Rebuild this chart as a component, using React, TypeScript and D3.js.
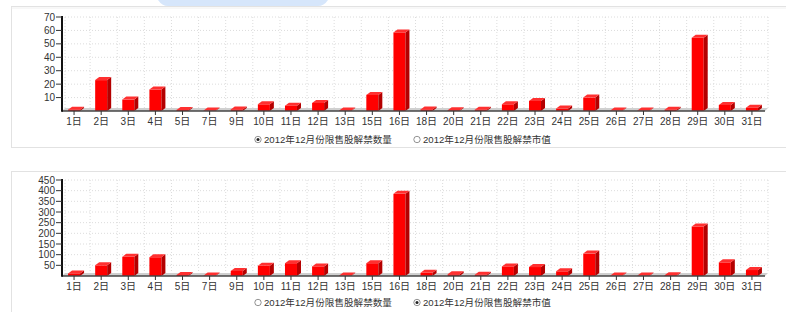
import React from "react";
import * as d3 from "d3";

const days = ["1日","2日","3日","4日","5日","7日","9日","10日","11日","12日","13日","15日","16日","18日","20日","21日","22日","23日","24日","25日","26日","27日","28日","29日","30日","31日"];
const countValues = [1, 23, 8.5, 16, 0.8, 0.4, 1.2, 5, 4, 6, 0.4, 12, 58.5, 1.2, 0.6, 1, 5, 7.5, 1.8, 10, 0.3, 0.3, 1, 54.5, 4.5, 2.5];
const marketValues = [12, 50, 90, 88, 5, 2, 24, 48, 60, 45, 2, 60, 385, 15, 8, 6, 45, 42, 22, 105, 2, 2, 4, 232, 64, 28];
const countTicks = [10, 20, 30, 40, 50, 60, 70];
const marketTicks = [50, 100, 150, 200, 250, 300, 350, 400, 450];
const legendLabels = ["2012年12月份限售股解禁数量", "2012年12月份限售股解禁市值"];

const FONT = "'Liberation Sans', 'Noto Sans CJK SC', sans-serif";

type ChartProps = {
  values: number[];
  ticks: number[];
  yMax: number;
  top: number;
  bottom: number;
  legendY: number;
  selected: number;
};

function Chart({ values, ticks, yMax, top, bottom, legendY, selected }: ChartProps) {
  const x = d3.scaleBand<string>().domain(days).range([63, 768]);
  const y = d3.scaleLinear().domain([0, yMax]).range([bottom, top]);
  const SHIFT = -2.5, DX = 4, DY = 3, HW = 6;
  const cx = (d: string) => (x(d) as number) + x.bandwidth() / 2 + SHIFT;
  const grid = "#dcdcdc";
  return (
    <g>
      {/* floor */}
      <polygon points={`62,${bottom} 765,${bottom} 768,${bottom - DY} 65,${bottom - DY}`} fill="#d0d0d0" />
      {/* horizontal grid */}
      {ticks.map((t) => (
        <line key={"h" + t} x1={65} x2={768} y1={y(t)} y2={y(t)} stroke={grid} strokeDasharray="1,2" />
      ))}
      {/* vertical grid */}
      {days.map((d) => (
        <line key={"v" + d} x1={(x(d) as number) + x.bandwidth()} x2={(x(d) as number) + x.bandwidth()} y1={top} y2={bottom - DY} stroke={grid} strokeDasharray="1,2" />
      ))}
      <line x1={65} x2={65} y1={top} y2={bottom - DY} stroke={grid} strokeDasharray="1,2" />
      {/* bars */}
      {days.map((d, i) => {
        const c = cx(d);
        const yt = y(values[i]);
        const l = c - HW, r = c + HW;
        return (
          <g key={"b" + d}>
            <rect x={l} y={yt} width={r - l} height={bottom - yt} fill="#ff0000" />
            <polygon points={`${r},${yt} ${r + DX},${yt - DY} ${r + DX},${bottom - DY} ${r},${bottom}`} fill="#b40000" />
            <polygon points={`${l},${yt} ${l + DX},${yt - DY} ${r + DX},${yt - DY} ${r},${yt}`} fill="#ff3030" />
          </g>
        );
      })}
      {/* axes */}
      <line x1={62} x2={765} y1={bottom} y2={bottom} stroke="#444" strokeWidth={1.5} />
      <line x1={62} x2={62} y1={top - 1} y2={bottom + 0.75} stroke="#111" strokeWidth={2} />
      {ticks.map((t) => (
        <g key={"yt" + t}>
          <line x1={56} x2={62} y1={y(t)} y2={y(t)} stroke="#333" />
          <text x={55} y={y(t)} dy="0.35em" textAnchor="end" fontSize={10} fill="#333" fontFamily={FONT}>{t}</text>
        </g>
      ))}
      {days.map((d) => (
        <g key={"xt" + d}>
          <line x1={cx(d)} x2={cx(d)} y1={bottom} y2={bottom + 4} stroke="#333" />
          <text x={cx(d)} y={bottom + 14} textAnchor="middle" fontSize={10} fill="#333" fontFamily={FONT}>{d}</text>
        </g>
      ))}
      {/* legend */}
      {legendLabels.map((lab, i) => {
        const rx = i === 0 ? 258 : 417;
        return (
          <g key={"lg" + i}>
            <circle cx={rx} cy={legendY} r={3.2} fill="#fff" stroke="#777" strokeWidth={0.8} />
            {selected === i && <circle cx={rx} cy={legendY} r={1.5} fill="#222" />}
            <text x={rx + 6} y={legendY} dy="0.35em" fontSize={9.6} fill="#333" fontFamily={FONT}>{lab}</text>
          </g>
        );
      })}
    </g>
  );
}

export default function App() {
  return (
    <svg width={786} height={312} style={{ position: "absolute", left: 0, top: 0, background: "#fff" }}>
      <path d="M158,0 L328,0 Q324,6 318,6 L168,6 Q162,6 158,0 Z" fill="#d6e6fb" />
      <rect x={11.5} y={6.5} width={790} height={141} fill="#fff" stroke="#e2e2e2" />
      <line x1={11.5} x2={786} y1={8} y2={8} stroke="#f0f0f0" />
      <rect x={11.5} y={171.5} width={790} height={160} fill="#fff" stroke="#e2e2e2" />
      <Chart values={countValues} ticks={countTicks} yMax={70} top={17} bottom={111} legendY={139.5} selected={0} />
      <Chart values={marketValues} ticks={marketTicks} yMax={450} top={180} bottom={276} legendY={302.5} selected={1} />
    </svg>
  );
}
